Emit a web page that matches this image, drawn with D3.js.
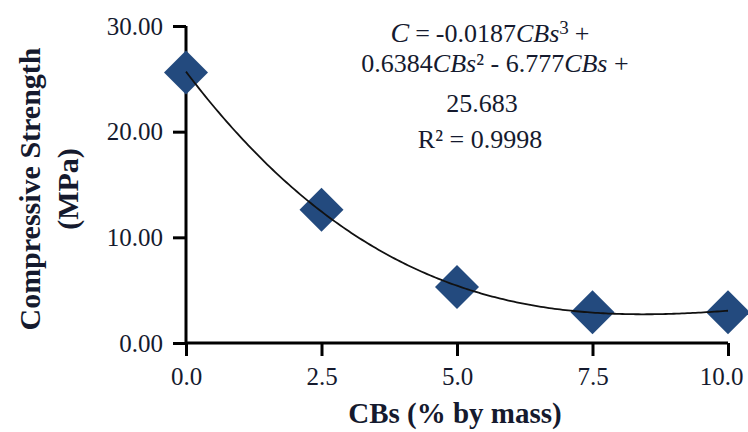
<!DOCTYPE html>
<html>
<head>
<meta charset="utf-8">
<script src="https://cdn.jsdelivr.net/npm/d3@7"></script>
<style>
  html, body { margin: 0; padding: 0; background: #fff; }
  svg { display: block; }
  text { font-family: "Liberation Serif", "Times New Roman", serif; fill: #151a2e; }
</style>
</head>
<body>
<svg id="chart" width="748" height="432"></svg>
<script>
// CB content (% by mass) and measured compressive strength (MPa)
const cbContent = [0, 2.5, 5.0, 7.5, 10.0];
const strength = [25.6, 12.6, 5.3, 2.9, 2.9];

// Tick values
const xTicks = [0, 2.5, 5.0, 7.5, 10.0];
const yTicks = [0, 10, 20, 30];

// Cubic trendline coefficients: a3, a2, a1, a0
const fitCoeffs = [-0.0187, 0.6384, -6.777, 25.683];
const rSquared = 0.9998;

const svg = d3.select("#chart");

const x = d3.scaleLinear().domain([0, 10]).range([186, 728]);
const y = d3.scaleLinear().domain([0, 30]).range([343, 26]);

// Fitted curve
const fit = v => ((fitCoeffs[0] * v + fitCoeffs[1]) * v + fitCoeffs[2]) * v + fitCoeffs[3];
const curvePts = d3.range(0, 10.0001, 0.05).map(v => [v, fit(v)]);

// Axes
const yAxis = d3.axisLeft(y).tickValues(yTicks).tickFormat(d3.format(".2f")).tickSize(13).tickPadding(10);
const xAxis = d3.axisBottom(x).tickValues(xTicks).tickFormat(d3.format(".1f")).tickSize(13).tickPadding(11);

const gx = svg.append("g").attr("transform", `translate(0,${y(0)})`).call(xAxis);
const gy = svg.append("g").attr("transform", `translate(${x(0)},0)`).call(yAxis);

[gx, gy].forEach(g => {
  g.select(".domain").attr("stroke", "#000").attr("stroke-width", 3);
  g.selectAll(".tick line").attr("stroke", "#000").attr("stroke-width", 3);
  g.selectAll(".tick text").attr("font-size", 25).attr("fill", "#1a2448")
    .style("font-family", "'Liberation Serif', serif");
});
gx.select(".domain").attr("d", `M${x(0)},0H${x(10)}`);
gy.select(".domain").attr("d", `M0,${y(30)}V${y(0)}`);
// keep the last x label inside the frame
gx.selectAll(".tick text").filter(d => d === 10).attr("text-anchor", "end").attr("x", 15);

// Markers (diamonds)
const diamond = 22;
svg.append("g").selectAll("path")
  .data(cbContent.map((c, i) => [c, strength[i]]))
  .join("path")
  .attr("d", d => {
    const cx = x(d[0]), cy = y(d[1]);
    return `M${cx},${cy - diamond}L${cx + diamond},${cy}L${cx},${cy + diamond}L${cx - diamond},${cy}Z`;
  })
  .attr("fill", "#234a7e");

// Trendline on top of markers
svg.append("path")
  .datum(curvePts)
  .attr("d", d3.line().x(d => x(d[0])).y(d => y(d[1])))
  .attr("fill", "none")
  .attr("stroke", "#111")
  .attr("stroke-width", 1.8);

// Axis titles
svg.append("text")
  .attr("x", 455).attr("y", 423)
  .attr("text-anchor", "middle")
  .attr("font-size", 29).attr("font-weight", "bold").attr("fill", "#111")
  .text("CBs (% by mass)");

const yt = svg.append("text")
  .attr("transform", "translate(0,189) rotate(-90)")
  .attr("text-anchor", "middle")
  .attr("font-size", 30).attr("font-weight", "bold").attr("fill", "#111");
yt.append("tspan").attr("x", 0).attr("y", 40).text("Compressive Strength");
yt.append("tspan").attr("x", 0).attr("y", 78).text("(MPa)");

// Equation annotation
const fmt = v => String(Math.abs(v));
const eq = svg.append("g").attr("font-size", 26);
const l1 = eq.append("text").attr("x", 490).attr("y", 42).attr("text-anchor", "middle");
l1.append("tspan").attr("font-style", "italic").attr("font-size", 28).text("C");
l1.append("tspan").attr("dx", 6).text("=");
l1.append("tspan").attr("dx", 6).text(`${fitCoeffs[0]}`);
l1.append("tspan").attr("font-style", "italic").text("CBs");
l1.append("tspan").attr("font-size", 19).attr("dy", -8).text("3");
l1.append("tspan").attr("dx", 6).attr("dy", 8).text("+");

const l2 = eq.append("text").attr("x", 495).attr("y", 72).attr("text-anchor", "middle");
l2.append("tspan").text(fmt(fitCoeffs[1]));
l2.append("tspan").attr("font-style", "italic").text("CBs");
l2.append("tspan").text(`² - ${fmt(fitCoeffs[2])}`);
l2.append("tspan").attr("font-style", "italic").text("CBs");
l2.append("tspan").text(" +");

eq.append("text").attr("x", 482).attr("y", 112).attr("text-anchor", "middle").text(fmt(fitCoeffs[3]));
eq.append("text").attr("x", 480).attr("y", 148).attr("text-anchor", "middle").text(`R² = ${rSquared}`);
</script>
</body>
</html>
